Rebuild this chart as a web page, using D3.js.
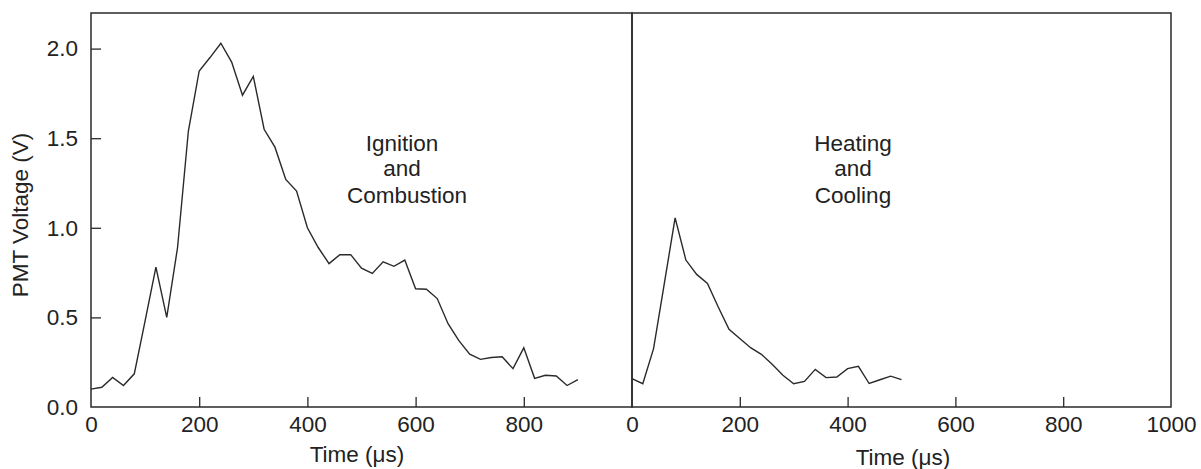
<!DOCTYPE html>
<html>
<head>
<meta charset="utf-8">
<script src="https://cdn.jsdelivr.net/npm/d3@7/dist/d3.min.js"></script>
<style>
  html, body { margin: 0; padding: 0; background: #fff; }
  svg { display: block; }
  text { font-family: "Liberation Sans", Arial, sans-serif; fill: #222; }
</style>
</head>
<body>
<svg id="chart" width="1201" height="469"></svg>
<script>
// ---- Data ----
const leftTime = [0,20,40,60,80,100,120,140,160,180,200,220,240,260,280,300,320,340,360,380,400,420,440,460,480,500,520,540,560,580,600,620,640,660,680,700,720,740,760,780,800,820,840,860,880,900];
const leftVoltage = [0.10,0.11,0.165,0.12,0.185,0.48,0.78,0.50,0.89,1.54,1.875,1.95,2.03,1.925,1.74,1.845,1.55,1.45,1.27,1.205,1.0,0.89,0.80,0.85,0.85,0.775,0.745,0.81,0.785,0.82,0.66,0.657,0.605,0.465,0.37,0.295,0.266,0.276,0.28,0.214,0.33,0.16,0.177,0.173,0.12,0.153];
const rightTime = [0,20,40,60,80,100,120,140,160,180,200,220,240,260,280,300,320,340,360,380,400,420,440,460,480,500];
const rightVoltage = [0.158,0.13,0.326,0.69,1.055,0.82,0.74,0.69,0.558,0.434,0.382,0.331,0.294,0.238,0.177,0.13,0.143,0.21,0.164,0.167,0.214,0.227,0.131,0.152,0.172,0.153];
const yTicks = [0.0,0.5,1.0,1.5,2.0];
const leftXTicks = [0,200,400,600,800];
const rightXTicks = [0,200,400,600,800,1000];
const leftNote = ["Ignition","and","Combustion"];
const rightNote = ["Heating","and","Cooling"];
const xTitle = "Time (\u03bcs)";
const yTitle = "PMT Voltage (V)";

// ---- Layout ----
const svg = d3.select("#chart");
const plotTop = 13, plotBottom = 407;
const y = d3.scaleLinear().domain([0, 2.2]).range([plotBottom, plotBottom - 2.2 * 179.2]);
const xL = d3.scaleLinear().domain([0, 1000]).range([91, 632]);
const xR = d3.scaleLinear().domain([0, 1000]).range([632, 1171]);
const ink = "#2a2a2a";
const fs = 22.5;

// frame
const frame = svg.append("g").attr("fill", "none").attr("stroke", ink).attr("stroke-width", 1.5);
frame.append("rect").attr("x", xL(0)).attr("y", plotTop).attr("width", xL(1000) - xL(0)).attr("height", plotBottom - plotTop);
frame.append("rect").attr("x", xR(0)).attr("y", plotTop).attr("width", xR(1000) - xR(0)).attr("height", plotBottom - plotTop);

// y axis (left panel)
const yAxis = d3.axisLeft(y).tickValues(yTicks).tickFormat(d3.format(".1f")).tickSizeInner(-10).tickSizeOuter(0).tickPadding(13);
const gy = svg.append("g").attr("transform", `translate(${xL(0)},0)`).call(yAxis);
gy.select(".domain").remove();
gy.selectAll(".tick line").attr("stroke", ink).attr("stroke-width", 1.3).filter(d => d === 0).remove();
gy.selectAll(".tick text").attr("font-size", fs).attr("fill", "#222").attr("font-family", "Liberation Sans, Arial, sans-serif");

// x axes
function xAxisPanel(scale, ticks) {
  const ax = d3.axisBottom(scale).tickValues(ticks).tickFormat(d3.format("d")).tickSizeInner(-10).tickSizeOuter(0).tickPadding(9);
  const g = svg.append("g").attr("transform", `translate(0,${plotBottom})`).call(ax);
  g.select(".domain").remove();
  g.selectAll(".tick line").attr("stroke", ink).attr("stroke-width", 1.3).filter(d => d === 0 || d === 1000).remove();
  g.selectAll(".tick text").attr("font-size", fs).attr("fill", "#222").attr("font-family", "Liberation Sans, Arial, sans-serif");
  return g;
}
xAxisPanel(xL, leftXTicks);
xAxisPanel(xR, rightXTicks);

// lines
const lineL = d3.line().x((d, i) => xL(leftTime[i])).y(d => y(d));
const lineR = d3.line().x((d, i) => xR(rightTime[i])).y(d => y(d));
svg.append("path").datum(leftVoltage).attr("d", lineL).attr("fill", "none").attr("stroke", ink).attr("stroke-width", 1.4).attr("stroke-linejoin", "miter");
svg.append("path").datum(rightVoltage).attr("d", lineR).attr("fill", "none").attr("stroke", ink).attr("stroke-width", 1.4).attr("stroke-linejoin", "miter");

// annotations
const noteBase = [151, 176, 203];
const leftCx = [402, 402, 407];
const rightCx = [853, 853, 853];
svg.append("g").selectAll("text").data(leftNote).join("text")
  .attr("x", (d, i) => leftCx[i]).attr("y", (d, i) => noteBase[i])
  .attr("text-anchor", "middle").attr("font-size", fs).text(d => d);
svg.append("g").selectAll("text").data(rightNote).join("text")
  .attr("x", (d, i) => rightCx[i]).attr("y", (d, i) => noteBase[i])
  .attr("text-anchor", "middle").attr("font-size", fs).text(d => d);

// axis titles
svg.append("text").attr("x", 357).attr("y", 462).attr("text-anchor", "middle").attr("font-size", fs).text(xTitle);
svg.append("text").attr("x", 903).attr("y", 465).attr("text-anchor", "middle").attr("font-size", fs).text(xTitle);
svg.append("text").attr("transform", "translate(28,215) rotate(-90)").attr("text-anchor", "middle").attr("font-size", fs).text(yTitle);
</script>
</body>
</html>
